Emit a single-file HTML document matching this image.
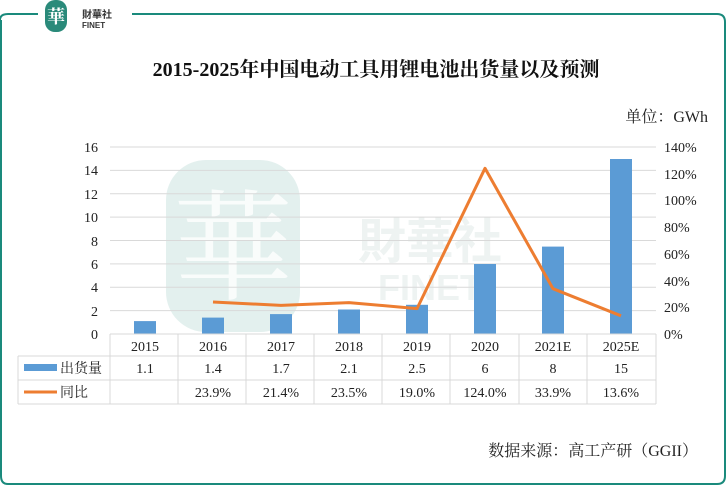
<!DOCTYPE html>
<html><head><meta charset="utf-8"><style>
body{margin:0;background:#fff;width:727px;height:497px;overflow:hidden;font-family:"Liberation Serif","Noto Serif CJK SC",serif}
</style></head><body>
<svg width="727" height="497" xmlns="http://www.w3.org/2000/svg" font-family="Liberation Serif, Noto Serif CJK SC, serif">
<path d="M0 20 Q0 14 8 14 H38 M132 14 H717 Q725 14 725 22 V476 Q725 484 717 484 H8 Q1 484 1 476 V20" fill="none" stroke="#1a8a7c" stroke-width="2"/>
<rect x="45" y="0" width="22" height="32" rx="10" fill="#2a8a7a"/>
<text x="56" y="23" font-size="18" fill="#fff" text-anchor="middle" font-weight="bold">華</text>
<text x="82" y="18" font-size="10" fill="#333" font-family="Liberation Sans, Noto Sans CJK SC, sans-serif" font-weight="bold">財華社</text>
<text x="82" y="28" font-size="8" fill="#333" font-family="Liberation Sans, sans-serif" font-weight="bold">FINET</text>
<rect x="166" y="160" width="134" height="172" rx="40" fill="#e3f0ee"/>
<text x="233" y="290" font-size="120" fill="#fff" text-anchor="middle" opacity="0.8">華</text>
<text x="430" y="258" font-size="48" fill="#eef3f2" text-anchor="middle" font-family="Liberation Sans, Noto Sans CJK SC, sans-serif" font-weight="bold">財華社</text>
<text x="430" y="300" font-size="36" fill="#eef3f2" text-anchor="middle" font-family="Liberation Sans, sans-serif" font-weight="bold">FINET</text>
<text x="376" y="76" font-size="20" font-weight="bold" text-anchor="middle" fill="#111">2015-2025年中国电动工具用锂电池出货量以及预测</text>
<text x="708" y="122" font-size="16" text-anchor="end" fill="#222">单位：GWh</text>
<g stroke="#d9d9d9" stroke-width="1">
<line x1="110" y1="147" x2="656" y2="147"/><line x1="110" y1="170.4" x2="656" y2="170.4"/><line x1="110" y1="193.8" x2="656" y2="193.8"/><line x1="110" y1="217.1" x2="656" y2="217.1"/><line x1="110" y1="240.5" x2="656" y2="240.5"/><line x1="110" y1="263.9" x2="656" y2="263.9"/><line x1="110" y1="287.3" x2="656" y2="287.3"/><line x1="110" y1="310.6" x2="656" y2="310.6"/>
</g>
<g font-size="14" fill="#222" text-anchor="end">
<text x="98" y="152">16</text><text x="98" y="175">14</text><text x="98" y="199">12</text><text x="98" y="222">10</text><text x="98" y="246">8</text><text x="98" y="269">6</text><text x="98" y="292">4</text><text x="98" y="316">2</text><text x="98" y="339">0</text>
</g>
<g font-size="14" fill="#222">
<text x="664" y="152">140%</text><text x="664" y="179">120%</text><text x="664" y="205">100%</text><text x="664" y="232">80%</text><text x="664" y="259">60%</text><text x="664" y="286">40%</text><text x="664" y="312">20%</text><text x="664" y="339">0%</text>
</g>
<g fill="#5b9bd5">
<rect x="134" y="321.1" width="22" height="12.9"/>
<rect x="202" y="317.6" width="22" height="16.4"/>
<rect x="270" y="314.1" width="22" height="19.9"/>
<rect x="338" y="309.5" width="22" height="24.5"/>
<rect x="406" y="304.8" width="22" height="29.2"/>
<rect x="474" y="264" width="22" height="70"/>
<rect x="542" y="246.6" width="22" height="87.4"/>
<rect x="610" y="159" width="22" height="175"/>
</g>
<polyline points="213,302 281,305.4 349,302.6 417,308.6 485,168.3 553,288.7 621,315.8" fill="none" stroke="#ed7d31" stroke-width="3" stroke-linejoin="round"/>
<g stroke="#d9d9d9" stroke-width="1" fill="none">
<line x1="110" y1="334" x2="656" y2="334"/>
<line x1="18" y1="356" x2="656" y2="356"/>
<line x1="18" y1="380" x2="656" y2="380"/>
<line x1="18" y1="404" x2="656" y2="404"/>
<line x1="18" y1="356" x2="18" y2="404"/>
<line x1="110" y1="334" x2="110" y2="404"/><line x1="178" y1="334" x2="178" y2="404"/><line x1="246" y1="334" x2="246" y2="404"/><line x1="314" y1="334" x2="314" y2="404"/><line x1="382" y1="334" x2="382" y2="404"/><line x1="450" y1="334" x2="450" y2="404"/><line x1="519" y1="334" x2="519" y2="404"/><line x1="587" y1="334" x2="587" y2="404"/><line x1="656" y1="334" x2="656" y2="404"/>
</g>
<g font-size="14" fill="#222" text-anchor="middle">
<text x="145" y="351">2015</text><text x="213" y="351">2016</text><text x="281" y="351">2017</text><text x="349" y="351">2018</text><text x="417" y="351">2019</text><text x="485" y="351">2020</text><text x="553" y="351">2021E</text><text x="621" y="351">2025E</text>
<text x="145" y="373">1.1</text><text x="213" y="373">1.4</text><text x="281" y="373">1.7</text><text x="349" y="373">2.1</text><text x="417" y="373">2.5</text><text x="485" y="373">6</text><text x="553" y="373">8</text><text x="621" y="373">15</text>
<text x="213" y="397">23.9%</text><text x="281" y="397">21.4%</text><text x="349" y="397">23.5%</text><text x="417" y="397">19.0%</text><text x="485" y="397">124.0%</text><text x="553" y="397">33.9%</text><text x="621" y="397">13.6%</text>
</g>
<rect x="24" y="364" width="33" height="7" fill="#5b9bd5"/>
<text x="60" y="373" font-size="14" fill="#222">出货量</text>
<line x1="24" y1="392" x2="57" y2="392" stroke="#ed7d31" stroke-width="3"/>
<text x="60" y="397" font-size="14" fill="#222">同比</text>
<text x="698" y="456" font-size="16" text-anchor="end" fill="#222">数据来源：高工产研（GGII）</text>
</svg>
</body></html>
